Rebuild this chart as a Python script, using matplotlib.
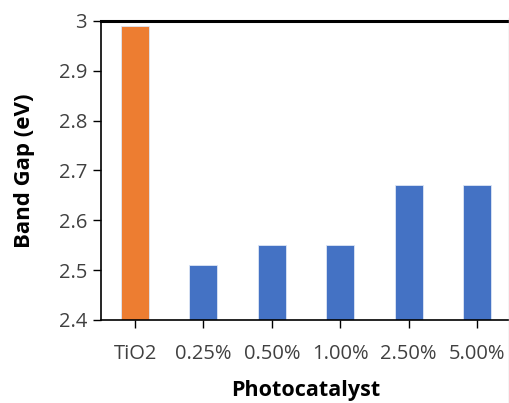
import matplotlib
matplotlib.use("Agg")
import matplotlib.pyplot as plt
from matplotlib.lines import Line2D

categories = ["TiO2", "0.25%", "0.50%", "1.00%", "2.50%", "5.00%"]
band_gap = [2.99, 2.51, 2.55, 2.55, 2.67, 2.67]
bar_colors = ["#ED7D31", "#4472C4", "#4472C4", "#4472C4", "#4472C4", "#4472C4"]
y_ticks = [2.4, 2.5, 2.6, 2.7, 2.8, 2.9, 3.0]
y_tick_labels = ["2.4", "2.5", "2.6", "2.7", "2.8", "2.9", "3"]

plt.rcParams["font.family"] = ["Open Sans", "DejaVu Sans"]

fig = plt.figure(figsize=(5.10, 4.03), dpi=100)
ax = fig.add_axes([0.198, 0.206, 0.804, 0.742])

x = list(range(len(categories)))
ax.bar(x, band_gap, width=0.41, color=bar_colors, edgecolor="#dde6f5", linewidth=0.6, zorder=2)

ax.set_ylim(2.4, 3.0)
ax.set_xlim(-0.5, len(categories) - 0.5)
ax.set_yticks(y_ticks)
ax.set_yticklabels(y_tick_labels)
ax.set_xticks(x)
ax.set_xticklabels(categories)

ax.tick_params(axis="both", labelsize=14.5, colors="#000000", labelcolor="#404040",
               length=6, width=1.0, direction="out")
ax.tick_params(axis="x", pad=11)
ax.tick_params(axis="y", pad=4)

for side in ("left", "bottom"):
    ax.spines[side].set_color("#000000")
    ax.spines[side].set_linewidth(1.2)
ax.spines["top"].set_color("#000000")
ax.spines["top"].set_linewidth(2.2)
ax.spines["right"].set_visible(False)

ax.set_ylabel("Band Gap (eV)", fontsize=16, fontweight="bold", color="#000000", labelpad=17)
ax.set_xlabel("Photocatalyst", fontsize=15.5, fontweight="bold", color="#000000", labelpad=12)

# light outer frame edge on the right side of the chart area
fig.add_artist(Line2D([0.998, 0.998], [0.0, 0.955], transform=fig.transFigure,
                      color="#c8c8c8", linewidth=1.0))

fig.savefig("out.png", dpi=100, facecolor="white")
